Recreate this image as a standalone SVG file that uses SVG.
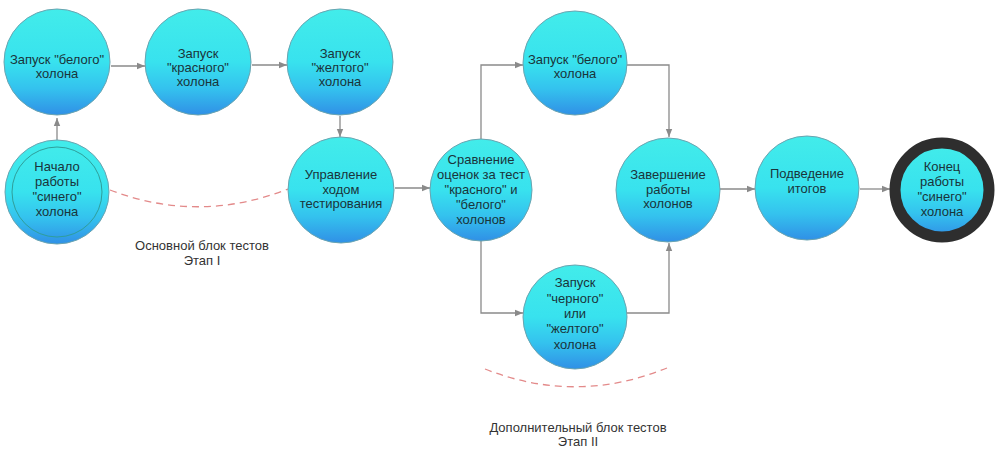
<svg xmlns="http://www.w3.org/2000/svg" width="1004" height="455" viewBox="0 0 1004 455">
<defs>
<linearGradient id="g" x1="0" y1="0" x2="0" y2="1">
<stop offset="0" stop-color="#42ecea"/>
<stop offset="0.5" stop-color="#38e2ee"/>
<stop offset="0.75" stop-color="#34c2ee"/>
<stop offset="1" stop-color="#3090e6"/>
</linearGradient>
<marker id="ah" viewBox="0 0 10 10" refX="10" refY="5" markerWidth="8" markerHeight="8" orient="auto" markerUnits="userSpaceOnUse">
<path d="M0,1 L10,5 L0,9 z" fill="#8a8a8a"/>
</marker>
<style>
.n{fill:url(#g);stroke:#6aa4b0;stroke-width:1}
.t{font-family:"Liberation Sans",Arial,sans-serif;font-size:13px;fill:#1a343a;text-anchor:middle}
.l{font-family:"Liberation Sans",Arial,sans-serif;font-size:13px;fill:#333;text-anchor:middle}
.c{fill:none;stroke:#8a8a8a;stroke-width:1.3;marker-end:url(#ah)}
.d{fill:none;stroke:#e38a8a;stroke-width:1.3;stroke-dasharray:7,5}
</style>
</defs>
<rect width="1004" height="455" fill="#fff"/>
<g id="connectors">
<path class="c" d="M57,141 L57,118"/>
<path class="c" d="M111,66 L145,66"/>
<path class="c" d="M252,65 L287,65"/>
<path class="c" d="M340,116 L340,137"/>
<path class="c" d="M395,188 L430,188"/>
<path class="c" d="M481,140 L481,65 L523,65"/>
<path class="c" d="M627,65 L669,65 L669,137"/>
<path class="c" d="M481,240 L481,313 L523,313"/>
<path class="c" d="M627,313 L669,313 L669,243"/>
<path class="c" d="M720,189 L755,189"/>
<path class="c" d="M860,189 L890,189"/>
<path class="d" d="M110,190 Q199,224 288,189"/>
<path class="d" d="M485,369 Q576,405 667,368"/>
</g>
<g id="n1"><circle class="n" cx="57" cy="62" r="53"/><text class="t" x="57" y="64">Запуск "белого"</text><text class="t" x="57" y="78">холона</text></g>
<g id="n2"><circle class="n" cx="198" cy="62" r="53"/><text class="t" x="198" y="58">Запуск</text><text class="t" x="198" y="72">"красного"</text><text class="t" x="198" y="86">холона</text></g>
<g id="n3"><circle class="n" cx="340" cy="62" r="53"/><text class="t" x="340" y="58">Запуск</text><text class="t" x="340" y="72">"желтого"</text><text class="t" x="340" y="86">холона</text></g>
<g id="n4"><circle class="n" cx="57" cy="192" r="52"/><circle cx="57" cy="192" r="45" fill="none" stroke="#2f9e9a" stroke-width="1"/><text class="t" x="57" y="171">Начало</text><text class="t" x="57" y="186">работы</text><text class="t" x="57" y="201">"синего"</text><text class="t" x="57" y="216">холона</text></g>
<g id="n5"><circle class="n" cx="341" cy="190" r="53"/><text class="t" x="341" y="179">Управление</text><text class="t" x="341" y="194">ходом</text><text class="t" x="341" y="208">тестирования</text></g>
<g id="n6"><circle class="n" cx="481" cy="190" r="51"/><text class="t" x="481" y="164">Сравнение</text><text class="t" x="481" y="179">оценок за тест</text><text class="t" x="481" y="194">"красного" и</text><text class="t" x="481" y="209">"белого"</text><text class="t" x="481" y="224">холонов</text></g>
<g id="n7"><circle class="n" cx="575" cy="63" r="52"/><text class="t" x="575" y="64">Запуск "белого"</text><text class="t" x="575" y="78">холона</text></g>
<g id="n8"><circle class="n" cx="668" cy="190" r="52"/><text class="t" x="668" y="179">Завершение</text><text class="t" x="668" y="194">работы</text><text class="t" x="668" y="208">холонов</text></g>
<g id="n9"><circle class="n" cx="575" cy="317" r="52"/><text class="t" x="575" y="287">Запуск</text><text class="t" x="575" y="303">"черного"</text><text class="t" x="575" y="318">или</text><text class="t" x="575" y="333">"желтого"</text><text class="t" x="575" y="349">холона</text></g>
<g id="n10"><circle class="n" cx="807" cy="188" r="52"/><text class="t" x="807" y="178">Подведение</text><text class="t" x="807" y="193">итогов</text></g>
<g id="n11"><circle cx="942" cy="190" r="47" fill="url(#g)" stroke="#2e2e2e" stroke-width="11"/><text class="t" x="942" y="171">Конец</text><text class="t" x="942" y="186">работы</text><text class="t" x="942" y="201">"синего"</text><text class="t" x="942" y="216">холона</text></g>
<g id="labels">
<text class="l" x="202" y="250">Основной блок тестов</text>
<text class="l" x="202" y="265">Этап I</text>
<text class="l" x="578" y="432">Дополнительный блок тестов</text>
<text class="l" x="578" y="446">Этап II</text>
</g>
</svg>
